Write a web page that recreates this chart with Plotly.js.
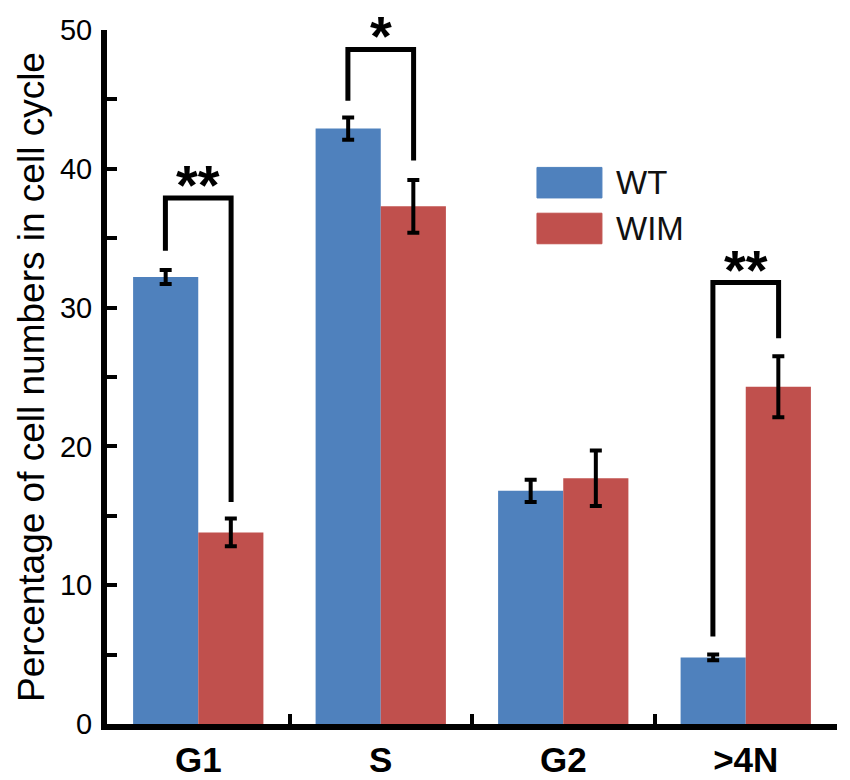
<!DOCTYPE html>
<html>
<head>
<meta charset="utf-8">
<script src="https://cdn.plot.ly/plotly-3.0.1.min.js"></script>
<style>html,body{margin:0;padding:0;background:#fff;}#chart{width:850px;height:780px;}</style>
</head>
<body>
<div id="chart"></div>
<script>
// ---- data ----
const categories = ["G1", "S", "G2", ">4N"];
const seriesNames = ["WT", "WIM"];
const wtValues = [32.2, 42.9, 16.8, 4.8];
const wtErrors = [0.5, 0.8, 0.8, 0.2];
const wimValues = [13.8, 37.3, 17.7, 24.3];
const wimErrors = [1.0, 1.9, 2.0, 2.2];
const yTickValues = [0, 10, 20, 30, 40, 50];
// significance brackets: category index, label, top, left arm bottom, right arm bottom
const sigCategory = [0, 1, 3];
const sigLabels = ["**", "*", "**"];
const sigTop = [37.9, 48.6, 31.8];
const sigLeftBottom = [34.1, 44.9, 6.3];
const sigRightBottom = [16.0, 40.6, 27.8];

const blue = "#4F81BD";
const red = "#C0504D";
const font = "Liberation Sans, Arial, sans-serif";
const half = 0.18;

const errStyle = {type: "data", visible: true, color: "#000", thickness: 4, width: 6};

const traces = [
  {type: "bar", name: seriesNames[0], x: categories, y: wtValues,
   marker: {color: blue}, showlegend: false,
   error_y: Object.assign({array: wtErrors}, errStyle)},
  {type: "bar", name: seriesNames[1], x: categories, y: wimValues,
   marker: {color: red}, showlegend: false,
   error_y: Object.assign({array: wimErrors}, errStyle)}
];

const shapes = [];
const annotations = [];
for (let i = 0; i < sigCategory.length; i++) {
  const c = sigCategory[i];
  shapes.push({type: "path", xref: "x", yref: "y",
    path: "M" + (c - half) + "," + sigLeftBottom[i] + " L" + (c - half) + "," + sigTop[i] +
          " L" + (c + half) + "," + sigTop[i] + " L" + (c + half) + "," + sigRightBottom[i],
    line: {color: "#000", width: 5}});
  annotations.push({xref: "x", yref: "y", x: c, y: sigTop[i], yanchor: "bottom", yshift: -20,
    text: sigLabels[i], showarrow: false,
    font: {family: font, size: 56, color: "#000", weight: "bold"}});
}
// manual legend with large swatches
const legendColors = [blue, red];
const legendY = [0.78, 0.714];
for (let i = 0; i < seriesNames.length; i++) {
  shapes.push({type: "rect", xref: "paper", yref: "paper",
    x0: 0.589, x1: 0.678, y0: legendY[i] - 0.022, y1: legendY[i] + 0.022,
    fillcolor: legendColors[i], line: {color: legendColors[i], width: 1}});
  annotations.push({xref: "paper", yref: "paper", x: 0.695, y: legendY[i],
    xanchor: "left", yanchor: "middle", text: seriesNames[i], showarrow: false,
    font: {family: font, size: 33, color: "#111"}});
}

const layout = {
  width: 850, height: 780,
  margin: {l: 107, r: 13, t: 30, b: 56},
  paper_bgcolor: "#fff", plot_bgcolor: "#fff",
  barmode: "group", bargap: 0.286, bargroupgap: 0,
  showlegend: false,
  xaxis: {
    type: "category", range: [-0.5, 3.5],
    showline: true, linecolor: "#000", linewidth: 6,
    ticks: "inside", tickson: "boundaries", ticklen: 10, tickwidth: 4, tickcolor: "#000",
    showgrid: false, zeroline: false,
    tickfont: {family: font, size: 35, color: "#000", weight: "bold"},
    automargin: false
  },
  yaxis: {
    range: [0, 50], tickvals: yTickValues,
    showline: true, linecolor: "#000", linewidth: 6,
    ticks: "inside", ticklen: 10, tickwidth: 4, tickcolor: "#000",
    minor: {dtick: 5, ticks: "inside", ticklen: 10, tickwidth: 4, tickcolor: "#000", showgrid: false},
    showgrid: false, zeroline: false,
    tickfont: {family: font, size: 29, color: "#000"},
    ticklabelstandoff: 3,
    title: {text: "Percentage of cell numbers in cell cycle", font: {family: font, size: 37, color: "#000"}, standoff: 6},
    automargin: false
  },
  shapes: shapes,
  annotations: annotations
};

Plotly.newPlot("chart", traces, layout, {displayModeBar: false, staticPlot: true});
</script>
</body>
</html>
